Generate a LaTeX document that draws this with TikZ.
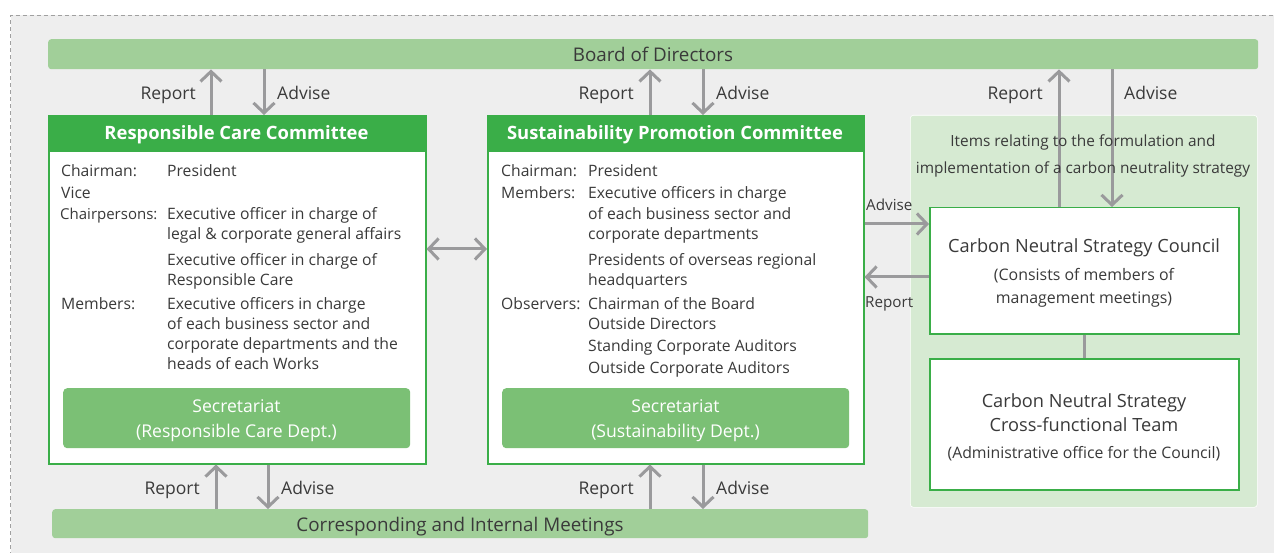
\documentclass[tikz,border=0pt]{standalone}
\usepackage{fontspec}
\setmainfont{Open Sans}
\usetikzlibrary{arrows.meta}
\definecolor{bgray}{HTML}{EEEEEE}
\definecolor{dgray}{HTML}{A0A0A0}
\definecolor{barg}{HTML}{A1CF99}
\definecolor{headg}{HTML}{3AAE48}
\definecolor{secg}{HTML}{7BC075}
\definecolor{paneg}{HTML}{D6EAD2}
\definecolor{agray}{HTML}{9A9A9C}
\definecolor{txt}{HTML}{3A3A3A}
\newcommand{\tline}[4]{\node[bodytxt] (#1) at (#2,#3) {#4};}
\begin{document}
\begin{tikzpicture}[x=1pt,y=-1pt,
  bar/.style={fill=barg, rounded corners=3pt, anchor=north west, inner sep=0pt},
  bartxt/.style={anchor=base, inner sep=0pt, text=txt, font=\fontsize{18.8}{20}\selectfont},
  cbox/.style={draw=headg, line width=1.5pt, fill=white, anchor=north west, inner sep=0pt},
  header/.style={fill=headg, anchor=north west, inner sep=0pt},
  headtxt/.style={anchor=base, inner sep=0pt, text=white, font=\bfseries\fontsize{18.4}{22}\selectfont},
  secbox/.style={fill=secg, rounded corners=4pt, anchor=north west, inner sep=0pt},
  sectxt/.style={anchor=base, inner sep=0pt, text=white, font=\fontsize{17.6}{25}\selectfont},
  bodytxt/.style={anchor=base west, inner sep=0pt, text=txt, font=\fontsize{15.7}{20}\selectfont},
  ctxt/.style={anchor=base, inner sep=0pt, text=txt},
  lbl/.style={inner sep=0pt, text=txt, font=\fontsize{17.5}{20}\selectfont},
  arr/.style={draw=agray, line width=3pt, -{Straight Barb[length=10pt,width=21pt]}},
  darr/.style={draw=agray, line width=3pt, {Straight Barb[length=10pt,width=21pt]}-{Straight Barb[length=10pt,width=21pt]}},
  wbox/.style={draw=headg, line width=1.5pt, fill=white, anchor=north west, inner sep=0pt}
]
\useasboundingbox (0,0) rectangle (1274,553);
\clip (0,0) rectangle (1274,553);
\fill[bgray] (10.5,15.5) rectangle (1290,570);
\draw[dgray, line width=0.8pt, dash pattern=on 4pt off 3pt] (10.5,570) -- (10.5,15.5) -- (1290,15.5);

% Board
\node[bar, minimum width=1210pt, minimum height=30pt] (board) at (48,39) {};
\node[bartxt] (boardt) at (653,62) {Board of Directors};
% Bottom bar
\node[bar, minimum width=816pt, minimum height=29pt] (meet) at (52,509) {};
\node[bartxt] (meett) at (460,531) {Corresponding and Internal Meetings};

% Right panel
\node[fill=paneg, draw=white, line width=0.6pt, rounded corners=3pt, anchor=north west, minimum width=347pt, minimum height=392pt, inner sep=0pt] (panel) at (910,115) {};

% Committees
\node[cbox, minimum width=377pt, minimum height=348pt] (rcc) at (48,115) {};
\node[header, minimum width=377pt, minimum height=37pt] (rcch) at (48,115) {};
\node[headtxt] (rcct) at (236.5,140) {Responsible Care Committee};
\node[cbox, minimum width=376pt, minimum height=348pt] (spc) at (487,115) {};
\node[header, minimum width=376pt, minimum height=37pt] (spch) at (487,115) {};
\node[headtxt] (spct) at (675,140) {Sustainability Promotion Committee};

% Left committee text
\tline{l1}{61}{177}{Chairman:}
\tline{l2}{61}{199}{Vice}
\node[bodytxt, font=\fontsize{15}{20}\selectfont] (l3) at (60,220) {Chairpersons:};
\tline{l4}{61}{309}{Members:}
\tline{v1}{167}{177}{President}
\tline{v2}{167}{220}{Executive officer in charge of}
\tline{v3}{167}{240}{legal \& corporate general affairs}
\tline{v4}{167}{266}{Executive officer in charge of}
\tline{v5}{167}{286}{Responsible Care}
\tline{v6}{167}{309}{Executive officers in charge}
\tline{v7}{167}{329}{of each business sector and}
\tline{v8}{167}{349}{corporate departments and the}
\tline{v9}{167}{369}{heads of each Works}

% Middle committee text
\tline{m1}{501}{177}{Chairman:}
\tline{m2}{501}{199}{Members:}
\tline{m3}{501}{309}{Observers:}
\tline{w1}{588}{177}{President}
\tline{w2}{588}{199}{Executive officers in charge}
\tline{w3}{588}{220}{of each business sector and}
\tline{w4}{588}{240}{corporate departments}
\tline{w5}{588}{266}{Presidents of overseas regional}
\tline{w6}{588}{286}{headquarters}
\tline{w7}{588}{309}{Chairman of the Board}
\tline{w8}{588}{330}{Outside Directors}
\tline{w9}{588}{351}{Standing Corporate Auditors}
\tline{w10}{588}{373}{Outside Corporate Auditors}

% Secretariats
\node[secbox, minimum width=347pt, minimum height=60pt] (sec1) at (63,388) {};
\node[sectxt] (sec1a) at (236.5,412) {Secretariat};
\node[sectxt] (sec1b) at (236.5,437) {(Responsible Care Dept.)};
\node[secbox, minimum width=347pt, minimum height=60pt] (sec2) at (502,388) {};
\node[sectxt] (sec2a) at (675.5,412) {Secretariat};
\node[sectxt] (sec2b) at (675.5,437) {(Sustainability Dept.)};

% Right side boxes
\node[wbox, minimum width=309pt, minimum height=126pt] (council) at (929,207) {};
\node[ctxt, font=\fontsize{18.2}{20}\selectfont] (ct1) at (1084,253) {Carbon Neutral Strategy Council};
\node[ctxt, font=\fontsize{15.9}{20}\selectfont] (ct2) at (1084,280) {(Consists of members of};
\node[ctxt, font=\fontsize{15.9}{20}\selectfont] (ct3) at (1084,304) {management meetings)};
\node[wbox, minimum width=309pt, minimum height=131pt] (team) at (929,358) {};
\node[ctxt, font=\fontsize{18.2}{20}\selectfont] (tt1) at (1084,407) {Carbon Neutral Strategy};
\node[ctxt, font=\fontsize{18.2}{20}\selectfont] (tt2) at (1084,431) {Cross-functional Team};
\node[ctxt, font=\fontsize{15.8}{20}\selectfont] (tt3) at (1084,458) {(Administrative office for the Council)};
\draw[agray, line width=3pt] (council.south) -- (team.north);

% Arrows top
\draw[arr] ({211,0} |- rcc.north) -- ({211,0} |- board.south);
\draw[arr] ({264,0} |- board.south) -- ({264,0} |- rcc.north);
\draw[arr] ({650,0} |- spc.north) -- ({650,0} |- board.south);
\draw[arr] ({703,0} |- board.south) -- ({703,0} |- spc.north);
\draw[arr] ({1059,0} |- council.north) -- ({1059,0} |- board.south);
\draw[arr] ({1112,0} |- board.south) -- ({1112,0} |- council.north);
% Arrows bottom
\draw[arr] ({216,0} |- meet.north) -- ({216,0} |- rcc.south);
\draw[arr] ({268,0} |- rcc.south) -- ({268,0} |- meet.north);
\draw[arr] ({650,0} |- meet.north) -- ({650,0} |- spc.south);
\draw[arr] ({703,0} |- spc.south) -- ({703,0} |- meet.north);
% Between committees
\draw[darr] ({0,249} -| rcc.east) -- ({0,249} -| spc.west);
% Council arrows
\draw[arr] ({0,224} -| spc.east) -- ({0,224} -| council.west);
\draw[arr] ({0,277} -| council.west) -- ({0,277} -| spc.east);

% Panel text (drawn over lines)
\node[ctxt, font=\fontsize{15.4}{20}\selectfont] (pt1) at (1083,147) {Items relating to the formulation and};
\node[ctxt, font=\fontsize{15.4}{20}\selectfont] (pt2) at (1083,174) {implementation of a carbon neutrality strategy};

% Labels
\node[lbl, anchor=base east] (r1) at (196,100) {Report};
\node[lbl, anchor=base west] (a1) at (277,100) {Advise};
\node[lbl, anchor=base east] (r2) at (634,100) {Report};
\node[lbl, anchor=base west] (a2) at (716,100) {Advise};
\node[lbl, anchor=base east] (r3) at (1043,100) {Report};
\node[lbl, anchor=base west] (a3) at (1124,100) {Advise};
\node[lbl, anchor=base east] (r4) at (200,494) {Report};
\node[lbl, anchor=base west] (a4) at (281,494) {Advise};
\node[lbl, anchor=base east] (r5) at (634,494) {Report};
\node[lbl, anchor=base west] (a5) at (716,494) {Advise};
\node[lbl, anchor=base west, font=\fontsize{15.2}{18}\selectfont] (a6) at (866,211) {Advise};
\node[lbl, anchor=base west, font=\fontsize{15.2}{18}\selectfont] (r6) at (865,308) {Report};
\end{tikzpicture}
\end{document}
